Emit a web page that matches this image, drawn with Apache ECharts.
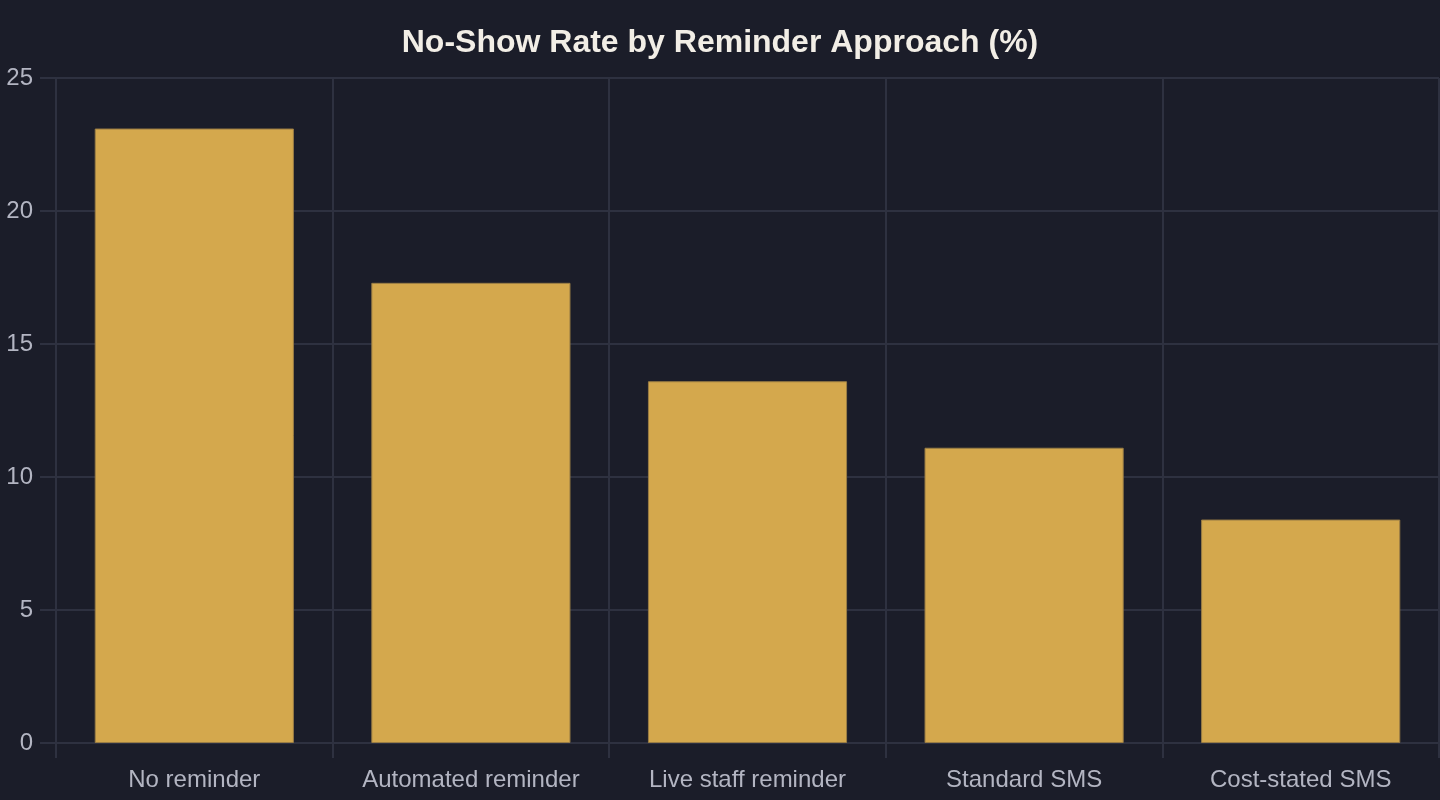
<!DOCTYPE html>
<html>
<head>
<meta charset="utf-8">
<style>
  html, body { margin: 0; padding: 0; background: #1b1d29; }
  #chart { width: 1440px; height: 800px; }
</style>
<script src="https://cdn.jsdelivr.net/npm/echarts@6/dist/echarts.min.js"></script>
</head>
<body>
<div id="chart"></div>
<script>
  const categories = ["No reminder", "Automated reminder", "Live staff reminder", "Standard SMS", "Cost-stated SMS"];
  const noShowRates = [23.1, 17.3, 13.6, 11.1, 8.4];

  let chart = echarts.init(document.getElementById("chart"));
  let option = {
    backgroundColor: "#1b1d29",
    animation: false,
    title: {
      text: "No-Show Rate by Reminder Approach (%)",
      left: "center",
      top: 22,
      textStyle: {
        color: "#f2eee6",
        fontSize: 32,
        fontWeight: "bold",
        fontFamily: "Liberation Sans",
      },
    },
    grid: {
      left: 56,
      right: 1,
      top: 78,
      bottom: 57,
    },
    xAxis: {
      type: "category",
      data: categories,
      axisLine: { lineStyle: { color: "#2e3140", width: 2 } },
      axisTick: { show: true, interval: 0, length: 15, lineStyle: { color: "#2e3140", width: 2 } },
      splitLine: { show: true, interval: 0, lineStyle: { color: "#2e3140", width: 2 } },
      axisLabel: {
        interval: 0,
        color: "#b3b5c2",
        fontSize: 24,
        margin: 25,
        fontFamily: "Liberation Sans",
      },
    },
    yAxis: {
      type: "value",
      min: 0,
      max: 25,
      interval: 5,
      axisLine: { show: true, lineStyle: { color: "#2e3140", width: 2 } },
      axisTick: { show: true, length: 16, lineStyle: { color: "#2e3140", width: 2 } },
      splitLine: { show: true, lineStyle: { color: "#2e3140", width: 2 } },
      axisLabel: {
        color: "#b3b5c2",
        fontSize: 24,
        margin: 23,
        fontFamily: "Liberation Sans",
      },
    },
    series: [
      {
        type: "bar",
        data: noShowRates,
        barCategoryGap: "28%",
        itemStyle: {
          color: "#d4a84d",
          borderColor: "#9a7d45",
          borderWidth: 1,
        },
      },
    ],
  };
  chart.setOption(option);
</script>
</body>
</html>
